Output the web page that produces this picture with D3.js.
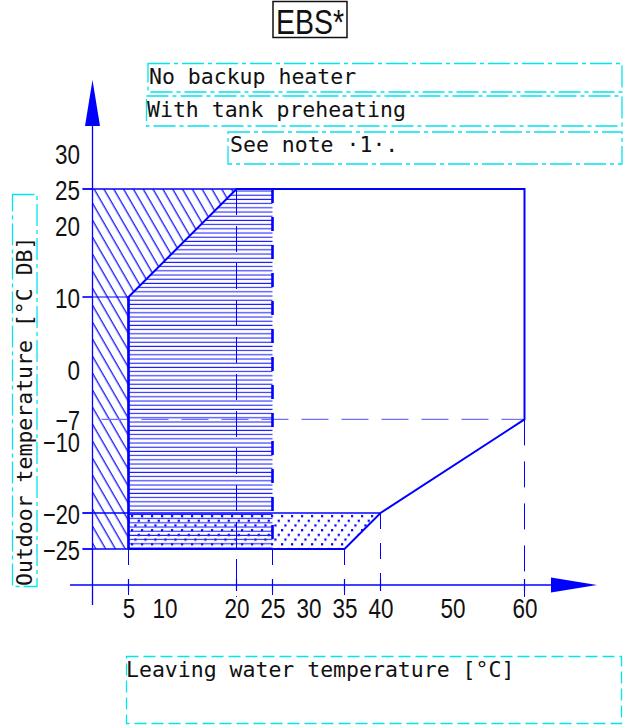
<!DOCTYPE html>
<html><head><meta charset="utf-8">
<script src="https://cdn.jsdelivr.net/npm/d3@7"></script>
<style>
html,body{margin:0;padding:0;background:#fff;}
svg{display:block;}
.mono{font-family:"DejaVu Sans Mono",monospace;font-size:21.5px;fill:#111;}
.narrow{font-family:"Liberation Sans","DejaVu Sans",sans-serif;fill:#111;}
</style></head>
<body>
<script>
// ---- data ----
const xTickValues = [5, 10, 20, 25, 30, 35, 40, 50, 60];
const yTickValues = [30, 25, 20, 10, 0, -7, -10, -20, -25];
const xTickMarks = [5, 20, 25, 35, 40, 60];
const yTickMarks = [25, 10, -20, -25];
const outline = [[5,10],[20,25],[60,25],[60,-7],[40,-20],[35,-25],[5,-25]];
const diagRegion = [[0,25],[20,25],[5,10],[5,-25],[0,-25]];
const horizRegion = [[5,10],[20,25],[25,25],[25,-25],[5,-25]];
const dotRegion = [[5,-20],[40,-20],[35,-25],[5,-25]];
const title = "EBS*";
const notes = ["No backup heater", "With tank preheating", "See note ·1·."];
const xLabel = "Leaving water temperature [°C]";
const yLabel = "Outdoor temperature [°C DB]";

const W = 624, H = 727;
const blue = "#0000ff";
const svg = d3.select("body").append("svg").attr("width", W).attr("height", H);

const x = d3.scaleLinear().domain([0, 60]).range([92.5, 524.5]);
const y = d3.scaleLinear().domain([-25, 25]).range([549, 189]);
const axisY = y(-30); // x axis position

// ---- patterns ----
const defs = svg.append("defs");
const pd = defs.append("pattern").attr("id","diag").attr("patternUnits","userSpaceOnUse")
  .attr("width",8.5).attr("height",8.5).attr("patternTransform","rotate(-30)");
pd.append("line").attr("x1",4).attr("x2",4).attr("y1",-1).attr("y2",9.5).attr("stroke",blue).attr("stroke-width",1.2);
const ph = defs.append("pattern").attr("id","horiz").attr("patternUnits","userSpaceOnUse")
  .attr("width",10).attr("height",4.2);
ph.append("line").attr("x1",0).attr("x2",10).attr("y1",2).attr("y2",2).attr("stroke","#1f1fff").attr("stroke-width",1.1);
const pdot = defs.append("pattern").attr("id","dots").attr("patternUnits","userSpaceOnUse")
  .attr("width",10).attr("height",14.1).attr("y", y(-20)+1);
[[1,1],[7.67,5.7],[4.33,10.4]].forEach(p => pdot.append("rect").attr("x",p[0]).attr("y",p[1]).attr("width",2.2).attr("height",2.2).attr("fill",blue));

const line = d3.line().x(d => x(d[0])).y(d => y(d[1]));

// ---- regions ----
svg.append("path").attr("d", line(diagRegion) + "Z").attr("fill","url(#diag)");
svg.append("path").attr("d", line(dotRegion) + "Z").attr("fill","url(#dots)");
svg.append("path").attr("d", line(horizRegion) + "Z").attr("fill","url(#horiz)");

// ---- guide lines ----
svg.append("line").attr("x1",x(0)-10).attr("x2",x(60)).attr("y1",y(25)).attr("y2",y(25)).attr("stroke",blue).attr("stroke-width",1.5);
svg.append("line").attr("x1",x(0)-10).attr("x2",x(5)).attr("y1",y(10)).attr("y2",y(10)).attr("stroke",blue).attr("stroke-width",1.2);
svg.append("line").attr("x1",x(0)-10).attr("x2",x(40)).attr("y1",y(-20)).attr("y2",y(-20)).attr("stroke",blue).attr("stroke-width",1.5);
svg.append("line").attr("x1",x(0)-10).attr("x2",x(35)).attr("y1",y(-25)).attr("y2",y(-25)).attr("stroke",blue).attr("stroke-width",1.5);
svg.append("line").attr("x1",x(0)+9).attr("x2",x(60)).attr("y1",y(-7)).attr("y2",y(-7)).attr("stroke","#7070ff").attr("stroke-width",1.2).attr("stroke-dasharray","27,13");

svg.append("line").attr("x1",x(20)).attr("x2",x(20)).attr("y1",y(25)).attr("y2",axisY+12).attr("stroke",blue).attr("stroke-width",1).attr("stroke-dasharray","26,11");
svg.append("line").attr("x1",x(25)).attr("x2",x(25)).attr("y1",y(25)).attr("y2",y(-25)).attr("stroke",blue).attr("stroke-width",2.6).attr("stroke-dasharray","14,14");
[[5,-25],[25,-25],[35,-25],[40,-20],[60,-7]].forEach(p => {
  svg.append("line").attr("x1",x(p[0])).attr("x2",x(p[0])).attr("y1",y(p[1])).attr("y2",axisY+12)
    .attr("stroke",blue).attr("stroke-width",1).attr("stroke-dasharray", p[0]===60 ? "26,16" : "16,14");
});

// outline
svg.append("path").attr("d", line(outline) + "Z").attr("fill","none").attr("stroke",blue).attr("stroke-width",2).attr("stroke-linejoin","miter");
svg.append("line").attr("x1",x(5)).attr("x2",x(5)).attr("y1",y(10)).attr("y2",y(-25)).attr("stroke",blue).attr("stroke-width",2.4);

// ---- axes ----
svg.append("line").attr("x1",x(0)).attr("x2",x(0)).attr("y1",126).attr("y2",axisY+20).attr("stroke",blue).attr("stroke-width",1.3);
svg.append("path").attr("d",`M${x(0)-7.5},126L${x(0)+7.5},126L${x(0)},80Z`).attr("fill",blue);
svg.append("line").attr("x1",70).attr("x2",551).attr("y1",axisY).attr("y2",axisY).attr("stroke",blue).attr("stroke-width",1.3);
svg.append("path").attr("d",`M551,${axisY-7.5}L551,${axisY+7.5}L597,${axisY}Z`).attr("fill",blue);

xTickMarks.forEach(v => svg.append("line").attr("x1",x(v)).attr("x2",x(v)).attr("y1",axisY-6).attr("y2",axisY+6).attr("stroke",blue).attr("stroke-width",1.2));
yTickMarks.forEach(v => svg.append("line").attr("x1",x(0)-10).attr("x2",x(0)).attr("y1",y(v)).attr("y2",y(v)).attr("stroke",blue).attr("stroke-width",1.2));

// tick labels via d3 axes
const fmt = d3.format("d");
const labW = s => s.replace("−","").length * 12.5 + (s.includes("−") ? 12 : 0);
const gx = svg.append("g").attr("transform",`translate(0,${axisY})`)
  .call(d3.axisBottom(x).tickValues(xTickValues).tickFormat(fmt).tickSize(0).tickPadding(0));
gx.select(".domain").remove();
gx.selectAll("text").attr("dy",null).attr("y",33);

const gy = svg.append("g").attr("transform",`translate(80,0)`)
  .call(d3.axisLeft(y).tickValues(yTickValues).tickFormat(fmt).tickSize(0).tickPadding(0));
gy.select(".domain").remove();
gy.selectAll("text").attr("x",0).attr("dy","0.36em");

svg.selectAll("g").attr("font-family",null).attr("font-size",null);
svg.selectAll("g.tick text").attr("class","narrow").style("font-size","28px")
  .each(function(d){ const s = fmt(d); d3.select(this).attr("textLength", labW(s)).attr("lengthAdjust","spacingAndGlyphs"); });

// ---- title ----
svg.append("rect").attr("x",273).attr("y",1.5).attr("width",74).attr("height",36).attr("fill","none").attr("stroke","#111").attr("stroke-width",1.5);
svg.append("text").attr("class","narrow").attr("x",310).attr("y",34).attr("text-anchor","middle")
  .style("font-size","35px").attr("textLength",68).attr("lengthAdjust","spacingAndGlyphs").text(title);

// ---- note boxes ----
const cyan = "#00e5ee";
const boxes = [
  {x:148, y:63.5, w:474, h:28.5, tx:149, ty:84},
  {x:146.5, y:96, w:475.5, h:30, tx:147, ty:117},
  {x:228, y:132, w:394, h:32, tx:230, ty:152}
];
boxes.forEach((b,i) => {
  svg.append("rect").attr("x",b.x).attr("y",b.y).attr("width",b.w).attr("height",b.h)
    .attr("fill","none").attr("stroke",cyan).attr("stroke-width",1.3).attr("stroke-dasharray","22,4,4,4");
  svg.append("text").attr("class","mono").attr("x",b.tx).attr("y",b.ty).text(notes[i]);
});

svg.append("rect").attr("x",126.5).attr("y",656.5).attr("width",495).attr("height",67)
  .attr("fill","none").attr("stroke",cyan).attr("stroke-width",1.3).attr("stroke-dasharray","12,5");
svg.append("text").attr("class","mono").attr("x",126).attr("y",677).text(xLabel);

svg.append("rect").attr("x",12.5).attr("y",194.5).attr("width",24.5).attr("height",392)
  .attr("fill","none").attr("stroke",cyan).attr("stroke-width",1.3).attr("stroke-dasharray","22,4,4,4");
svg.append("text").attr("class","mono").attr("transform","translate(32,586) rotate(-90)").text(yLabel);
</script>
</body></html>
